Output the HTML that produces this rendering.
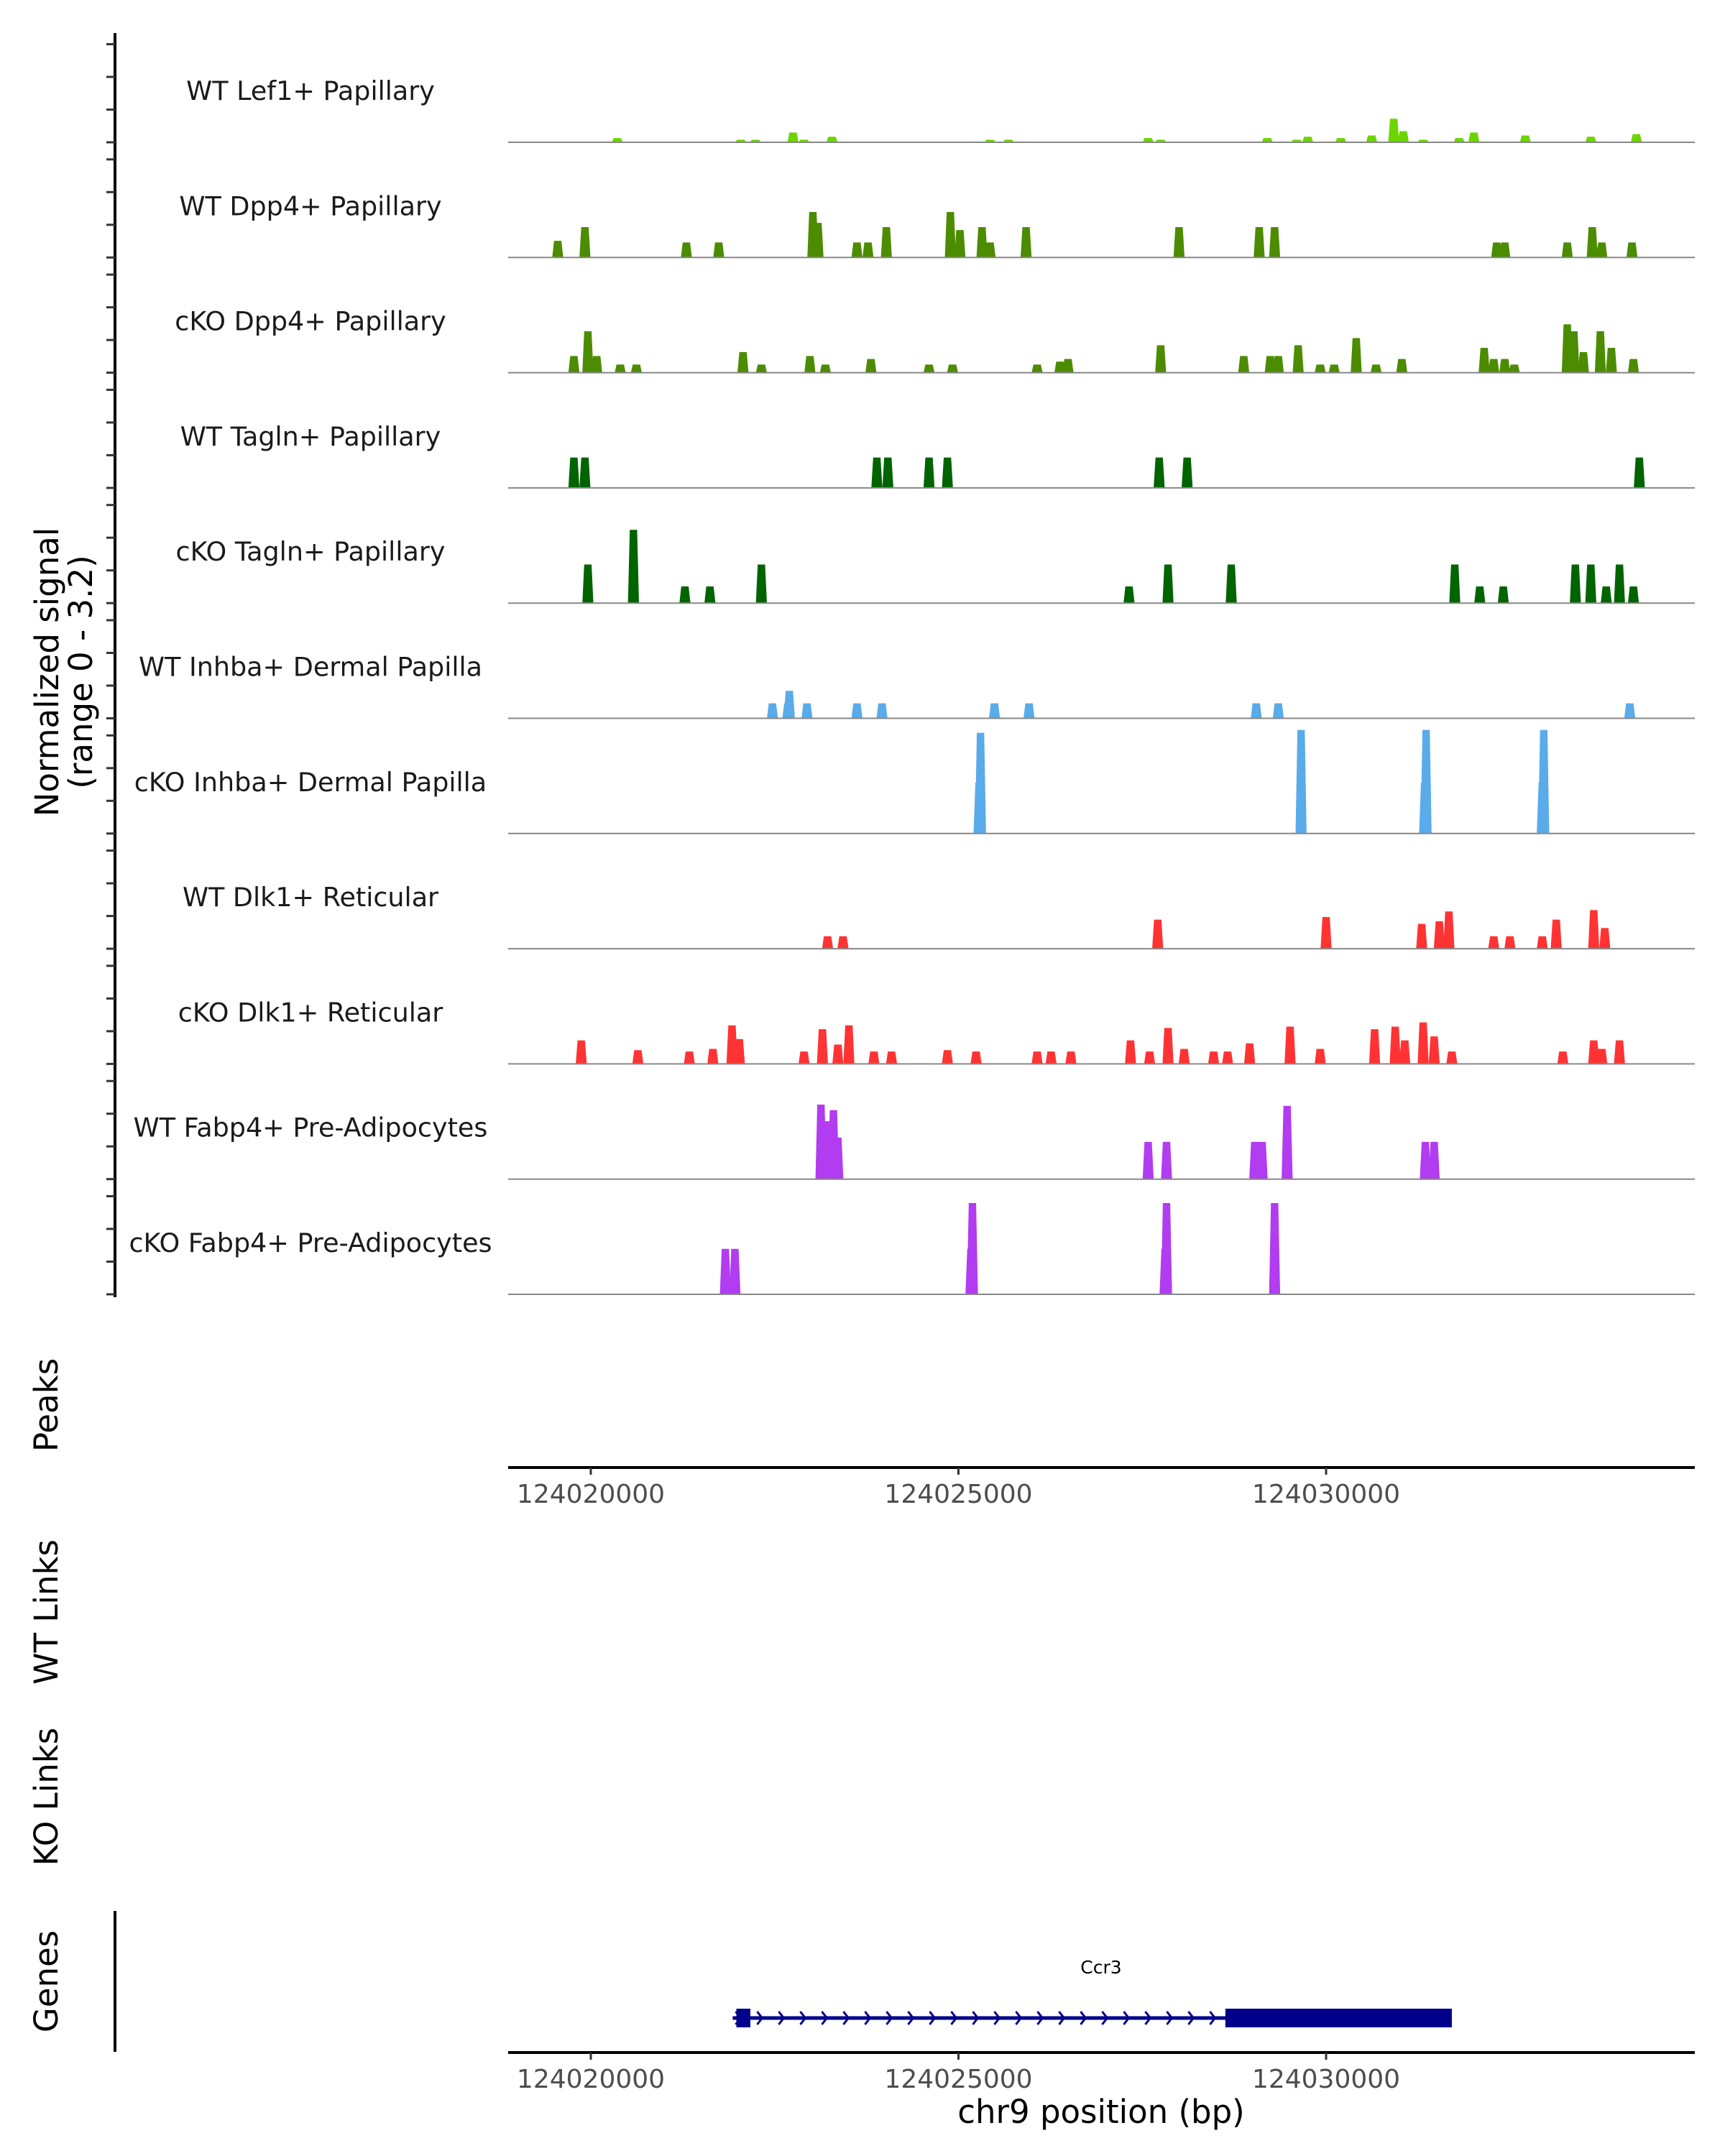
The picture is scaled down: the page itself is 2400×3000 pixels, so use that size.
<!DOCTYPE html>
<html><head><meta charset="utf-8"><style>
html,body{margin:0;padding:0;background:#fff;}
svg{display:block;font-family:"DejaVu Sans","Liberation Sans",sans-serif;}
</style></head><body>
<svg id="chart" width="2400" height="3000" viewBox="0 0 2400 3000" xmlns="http://www.w3.org/2000/svg">
<g id="tracks"></g>
<line x1="160" y1="46" x2="160" y2="1805" stroke="#000" stroke-width="4"/>
<g id="yticks"></g>
<text transform="translate(81,935) rotate(-90)" text-anchor="middle" font-size="45" fill="#000">Normalized signal</text>
<text transform="translate(128,935) rotate(-90)" text-anchor="middle" font-size="45" fill="#000">(range 0 - 3.2)</text>
<text transform="translate(80,1955) rotate(-90)" text-anchor="middle" font-size="45">Peaks</text>
<text transform="translate(80,2243) rotate(-90)" text-anchor="middle" font-size="45">WT Links</text>
<text transform="translate(80,2500) rotate(-90)" text-anchor="middle" font-size="45">KO Links</text>
<text transform="translate(80,2757) rotate(-90)" text-anchor="middle" font-size="45">Genes</text>
<line x1="160" y1="2659" x2="160" y2="2855" stroke="#000" stroke-width="4"/>
<g id="xaxes"></g>
<g id="gene"></g>
<text x="1532" y="2954" text-anchor="middle" font-size="45">chr9 position (bp)</text>
</svg>
<script>
const NS="http://www.w3.org/2000/svg";
// ---- data (positions in kb on chr9, heights in normalized signal) ----
const trackNames=["WT Lef1+ Papillary","WT Dpp4+ Papillary","cKO Dpp4+ Papillary","WT Tagln+ Papillary","cKO Tagln+ Papillary","WT Inhba+ Dermal Papilla","cKO Inhba+ Dermal Papilla","WT Dlk1+ Reticular","cKO Dlk1+ Reticular","WT Fabp4+ Pre-Adipocytes","cKO Fabp4+ Pre-Adipocytes"];
const trackColors=["#6dd400","#4c8c00","#4c8c00","#006400","#006400","#5aabea","#5aabea","#ff3333","#ff3333","#b23cf0","#b23cf0"];
const lef1Pos=[124020.36,124022.04,124022.24,124022.75,124022.90,124023.28,124025.43,124025.68,124027.58,124027.75,124029.20,124029.60,124029.75,124030.20,124030.62,124030.92,124031.05,124031.32,124031.81,124032.01,124032.71,124033.60,124034.22];
const lef1Val=[0.13,0.08,0.08,0.30,0.08,0.17,0.08,0.08,0.13,0.08,0.13,0.08,0.17,0.13,0.21,0.72,0.34,0.08,0.13,0.30,0.21,0.17,0.25];
const wtDpp4Pos=[124019.55,124019.92,124021.30,124021.74,124023.02,124023.09,124023.62,124023.77,124024.02,124024.89,124025.02,124025.32,124025.43,124025.92,124028.00,124029.09,124029.30,124032.32,124032.43,124033.28,124033.62,124033.75,124034.16];
const wtDpp4Val=[0.51,0.93,0.46,0.46,1.39,1.06,0.46,0.46,0.93,1.39,0.84,0.93,0.46,0.93,0.93,0.93,0.93,0.46,0.46,0.46,0.93,0.46,0.46];
const koDpp4Pos=[124019.77,124019.96,124020.08,124020.40,124020.62,124022.07,124022.32,124022.98,124023.19,124023.81,124024.60,124024.92,124026.07,124026.38,124026.49,124027.75,124028.88,124029.24,124029.35,124029.62,124029.92,124030.11,124030.41,124030.68,124031.03,124032.15,124032.28,124032.43,124032.56,124033.28,124033.37,124033.50,124033.73,124033.88,124034.18];
const koDpp4Val=[0.51,1.27,0.51,0.25,0.25,0.63,0.25,0.51,0.25,0.42,0.25,0.25,0.25,0.34,0.42,0.84,0.51,0.51,0.51,0.84,0.25,0.25,1.06,0.25,0.42,0.76,0.42,0.42,0.25,1.48,1.27,0.63,1.27,0.76,0.42];
const wtTaglnPos=[124019.77,124019.92,124023.89,124024.04,124024.60,124024.85,124027.73,124028.11,124034.26];
const wtTaglnVal=[0.93,0.93,0.93,0.93,0.93,0.93,0.93,0.93,0.93];
const koTaglnPos=[124019.96,124020.58,124021.28,124021.62,124022.32,124027.32,124027.85,124028.71,124031.75,124032.09,124032.41,124033.39,124033.60,124033.81,124033.99,124034.18];
const koTaglnVal=[1.18,2.24,0.51,0.51,1.18,0.51,1.18,1.18,1.18,0.51,0.51,1.18,1.18,0.51,1.18,0.51];
const wtInhbaPos=[124022.47,124022.68,124022.70,124022.94,124023.62,124023.96,124025.49,124025.96,124029.05,124029.35,124034.13];
const wtInhbaVal=[0.46,0.46,0.84,0.46,0.46,0.46,0.46,0.46,0.46,0.46,0.46];
const koInhbaPos=[124025.28,124025.30,124029.66,124031.34,124031.36,124032.94,124032.96];
const koInhbaVal=[1.56,3.08,3.17,1.56,3.17,1.56,3.17];
const wtDlk1Pos=[124023.22,124023.43,124027.71,124030.00,124031.30,124031.54,124031.67,124032.28,124032.50,124032.94,124033.13,124033.64,124033.79];
const wtDlk1Val=[0.38,0.38,0.89,0.97,0.76,0.84,1.14,0.38,0.38,0.38,0.89,1.18,0.63];
const koDlk1Pos=[124019.87,124020.64,124021.34,124021.66,124021.92,124022.02,124022.90,124023.15,124023.36,124023.51,124023.85,124024.09,124024.85,124025.24,124026.07,124026.26,124026.53,124027.34,124027.60,124027.85,124028.07,124028.47,124028.66,124028.96,124029.51,124029.92,124030.66,124030.94,124031.07,124031.32,124031.47,124031.71,124033.22,124033.64,124033.75,124033.99];
const koDlk1Val=[0.72,0.42,0.38,0.46,1.18,0.76,0.38,1.06,0.59,1.18,0.38,0.38,0.42,0.38,0.38,0.38,0.38,0.72,0.38,1.10,0.46,0.38,0.38,0.63,1.14,0.46,1.06,1.14,0.72,1.27,0.84,0.38,0.38,0.72,0.46,0.72];
const wtFabp4Pos=[124023.13,124023.22,124023.30,124023.36,124027.58,124027.83,124029.03,124029.13,124029.47,124031.35,124031.47];
const wtFabp4Val=[2.28,1.77,2.11,1.27,1.14,1.14,1.14,1.14,2.24,1.14,1.14];
const koFabp4Pos=[124021.83,124021.96,124025.17,124025.19,124027.81,124027.83,124029.30];
const koFabp4Val=[1.39,1.39,1.39,2.79,1.39,2.79,2.79];
const trackPos=[lef1Pos,wtDpp4Pos,koDpp4Pos,wtTaglnPos,koTaglnPos,wtInhbaPos,koInhbaPos,wtDlk1Pos,koDlk1Pos,wtFabp4Pos,koFabp4Pos];
const trackVal=[lef1Val,wtDpp4Val,koDpp4Val,wtTaglnVal,koTaglnVal,wtInhbaVal,koInhbaVal,wtDlk1Val,koDlk1Val,wtFabp4Val,koFabp4Val];
const xTicks=[124020000,124025000,124030000];
const yTicks=[0,1,2,3];
const geneName="Ccr3";
const geneStart=124021.93, geneEnd=124031.71;
const exonStarts=[124021.98,124028.63];
const exonEnds=[124022.17,124031.71];

// ---- scales ----
const X0=707,X1=2358;
function xS(kb){return 822+(kb-124020)*102.3;}
function base(i){return 198+i*160.3;}
function yS(i,v){return base(i)-v*45.5;}

const tracks=document.getElementById('tracks');
const yt=document.getElementById('yticks');
trackNames.forEach((name,i)=>{
  const g=document.createElementNS(NS,'g');
  
  
  const lab=document.createElementNS(NS,'text');
  
  
  lab.setAttribute('x',432);lab.setAttribute('y',base(i)-59);
  lab.setAttribute('text-anchor','middle');lab.setAttribute('font-size','36.5');lab.setAttribute('fill','#1a1a1a');
  lab.textContent=name;g.appendChild(lab);
  const pos=trackPos[i],val=trackVal[i];
  pos.forEach((p,j)=>{
    const v=val[j];
    const xl=xS(p-0.075),xr=xS(p+0.075),tl=xS(p-0.05),tr=xS(p+0.05);
    const b=base(i),t=yS(i,v);
    const poly=document.createElementNS(NS,'polygon');
    
    
    poly.setAttribute('points',`${xl},${b} ${tl},${t} ${tr},${t} ${xr},${b}`);
    poly.setAttribute('fill',trackColors[i]);
    g.appendChild(poly);
  });
  const bl=document.createElementNS(NS,'line');
  
  
  bl.setAttribute('x1',X0);bl.setAttribute('x2',X1);bl.setAttribute('y1',base(i));bl.setAttribute('y2',base(i));
  bl.setAttribute('stroke','#888');bl.setAttribute('stroke-width','2');
  g.appendChild(bl);
  tracks.appendChild(g);
  yTicks.forEach(v=>{
    const tk=document.createElementNS(NS,'line');
    
    
    tk.setAttribute('x1',148);tk.setAttribute('x2',160);
    tk.setAttribute('y1',yS(i,v));tk.setAttribute('y2',yS(i,v));
    tk.setAttribute('stroke','#333');tk.setAttribute('stroke-width','3');
    yt.appendChild(tk);
  });
});

const xa=document.getElementById('xaxes');
[2042,2856].forEach((ay,k)=>{
  const l=document.createElementNS(NS,'line');
  
  
  l.setAttribute('x1',X0);l.setAttribute('x2',X1);l.setAttribute('y1',ay);l.setAttribute('y2',ay);
  l.setAttribute('stroke','#000');l.setAttribute('stroke-width','4');
  xa.appendChild(l);
  xTicks.forEach(t=>{
    const x=xS(t/1000);
    const tk=document.createElementNS(NS,'line');
    
    
    tk.setAttribute('x1',x);tk.setAttribute('x2',x);tk.setAttribute('y1',ay);tk.setAttribute('y2',ay+10);
    tk.setAttribute('stroke','#333');tk.setAttribute('stroke-width','3');
    xa.appendChild(tk);
    const tx=document.createElementNS(NS,'text');
    
    
    tx.setAttribute('x',x);tx.setAttribute('y',ay+49);tx.setAttribute('text-anchor','middle');
    tx.setAttribute('font-size','36');tx.setAttribute('fill','#4d4d4d');
    tx.textContent=String(t);
    xa.appendChild(tx);
  });
});

const gg=document.getElementById('gene');
const gy=2808;
const gl=document.createElementNS(NS,'line');


gl.setAttribute('x1',xS(geneStart));gl.setAttribute('x2',xS(geneEnd));gl.setAttribute('y1',gy);gl.setAttribute('y2',gy);
gl.setAttribute('stroke','#00008b');gl.setAttribute('stroke-width','5');
gg.appendChild(gl);
for(let x=xS(geneStart)+4;x<xS(exonStarts[1])-10;x+=30){
  const ch=document.createElementNS(NS,'polyline');
  
  
  ch.setAttribute('points',`${x},${gy-9} ${x+7},${gy} ${x},${gy+9}`);
  ch.setAttribute('fill','none');ch.setAttribute('stroke','#00008b');ch.setAttribute('stroke-width','3');
  gg.appendChild(ch);
}
exonStarts.forEach((s,j)=>{
  const r=document.createElementNS(NS,'rect');
  
  
  r.setAttribute('x',xS(s));r.setAttribute('width',xS(exonEnds[j])-xS(s));
  r.setAttribute('y',gy-13);r.setAttribute('height',26);r.setAttribute('fill','#00008b');
  gg.appendChild(r);
});
const gn=document.createElementNS(NS,'text');


gn.setAttribute('x',1532);gn.setAttribute('y',2746);gn.setAttribute('text-anchor','middle');gn.setAttribute('font-size','25');
gn.textContent=geneName;
gg.appendChild(gn);
</script>
</body></html>
